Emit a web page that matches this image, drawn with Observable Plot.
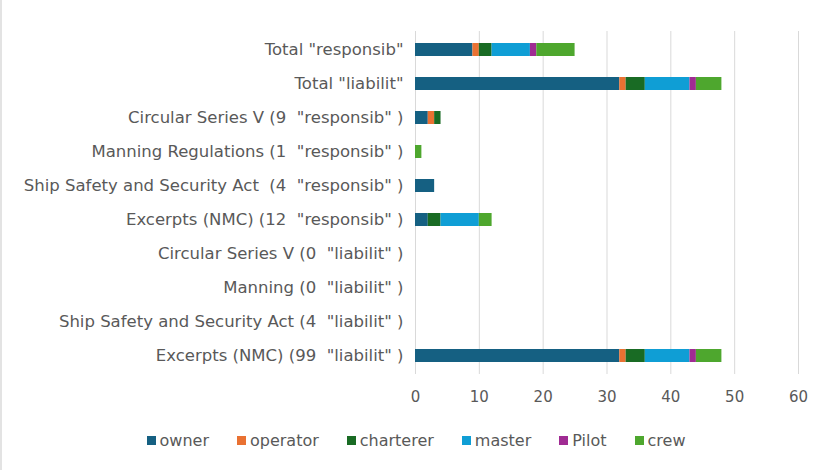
<!DOCTYPE html>
<html>
<head>
<meta charset="utf-8">
<script src="https://cdn.jsdelivr.net/npm/d3@7"></script>
<script src="https://cdn.jsdelivr.net/npm/@observablehq/plot@0.6"></script>
<style>
  html, body { margin: 0; padding: 0; background: #fff; }
  #wrap { width: 822px; height: 470px; position: relative; box-sizing: border-box; border-left: 2px solid #e3e3e3; overflow: hidden; }
  #chart svg text { white-space: pre; }
  #legend { position: absolute; left: 0; right: 0; top: 431px; display: flex; justify-content: center; gap: 28px;
            font-family: "DejaVu Sans", sans-serif; font-size: 16px; color: #595959; padding-left: 8px; }
  #legend .it { display: flex; align-items: center; gap: 4px; }
  #legend .sw { width: 9px; height: 9px; display: inline-block; }
</style>
</head>
<body>
<div id="wrap">
  <div id="chart"></div>
  <div id="legend"></div>
</div>
<script>
const categories = [
  'Total "responsib"',
  'Total "liabilit"',
  'Circular Series V (9  "responsib" )',
  'Manning Regulations (1  "responsib" )',
  'Ship Safety and Security Act  (4  "responsib" )',
  'Excerpts (NMC) (12  "responsib" )',
  'Circular Series V (0  "liabilit" )',
  'Manning (0  "liabilit" )',
  'Ship Safety and Security Act (4  "liabilit" )',
  'Excerpts (NMC) (99  "liabilit" )'
];
const seriesNames = ["owner", "operator", "charterer", "master", "Pilot", "crew"];
const owner     = [9, 32, 2, 0, 3, 2, 0, 0, 0, 32];
const operator  = [1, 1, 1, 0, 0, 0, 0, 0, 0, 1];
const charterer = [2, 3, 1, 0, 0, 2, 0, 0, 0, 3];
const master    = [6, 7, 0, 0, 0, 6, 0, 0, 0, 7];
const pilot     = [1, 1, 0, 0, 0, 0, 0, 0, 0, 1];
const crew      = [6, 4, 0, 1, 0, 2, 0, 0, 0, 4];
const xTicks = [0, 10, 20, 30, 40, 50, 60];
const colors = ["#156082", "#E97132", "#196B24", "#0F9ED5", "#A02B93", "#4EA72E"];

const seriesValues = [owner, operator, charterer, master, pilot, crew];
const data = [];
seriesNames.forEach((s, si) => {
  categories.forEach((c, ci) => {
    data.push({ category: c, series: s, value: seriesValues[si][ci] });
  });
});

const chart = Plot.plot({
  width: 820,
  height: 418,
  marginLeft: 413,
  marginRight: 24,
  marginTop: 31,
  marginBottom: 44,
  style: { fontFamily: "DejaVu Sans, sans-serif", fontSize: "15px", color: "#595959", background: "#fff" },
  x: { domain: [0, 60], ticks: xTicks, grid: false, label: null },
  y: { domain: categories, label: null, paddingInner: 0.62, paddingOuter: 0.31 },
  color: { domain: seriesNames, range: colors },
  marks: [
    Plot.gridX(xTicks, { stroke: "#d9d9d9", strokeOpacity: 1, strokeWidth: 1 }),
    Plot.barX(data, Plot.stackX({ x: "value", y: "category", fill: "series", order: seriesNames })),
    Plot.axisX({ ticks: xTicks, tickSize: 0, tickPadding: 17, label: null, fontSize: 15 }),
    Plot.axisY({ tickSize: 0, tickPadding: 12, label: null, fontSize: 16.5 })
  ]
});
document.getElementById("chart").appendChild(chart);

const legend = document.getElementById("legend");
seriesNames.forEach((s, i) => {
  const it = document.createElement("span");
  it.className = "it";
  const sw = document.createElement("span");
  sw.className = "sw";
  sw.style.background = colors[i];
  it.appendChild(sw);
  it.appendChild(document.createTextNode(s));
  legend.appendChild(it);
});
</script>
</body>
</html>
